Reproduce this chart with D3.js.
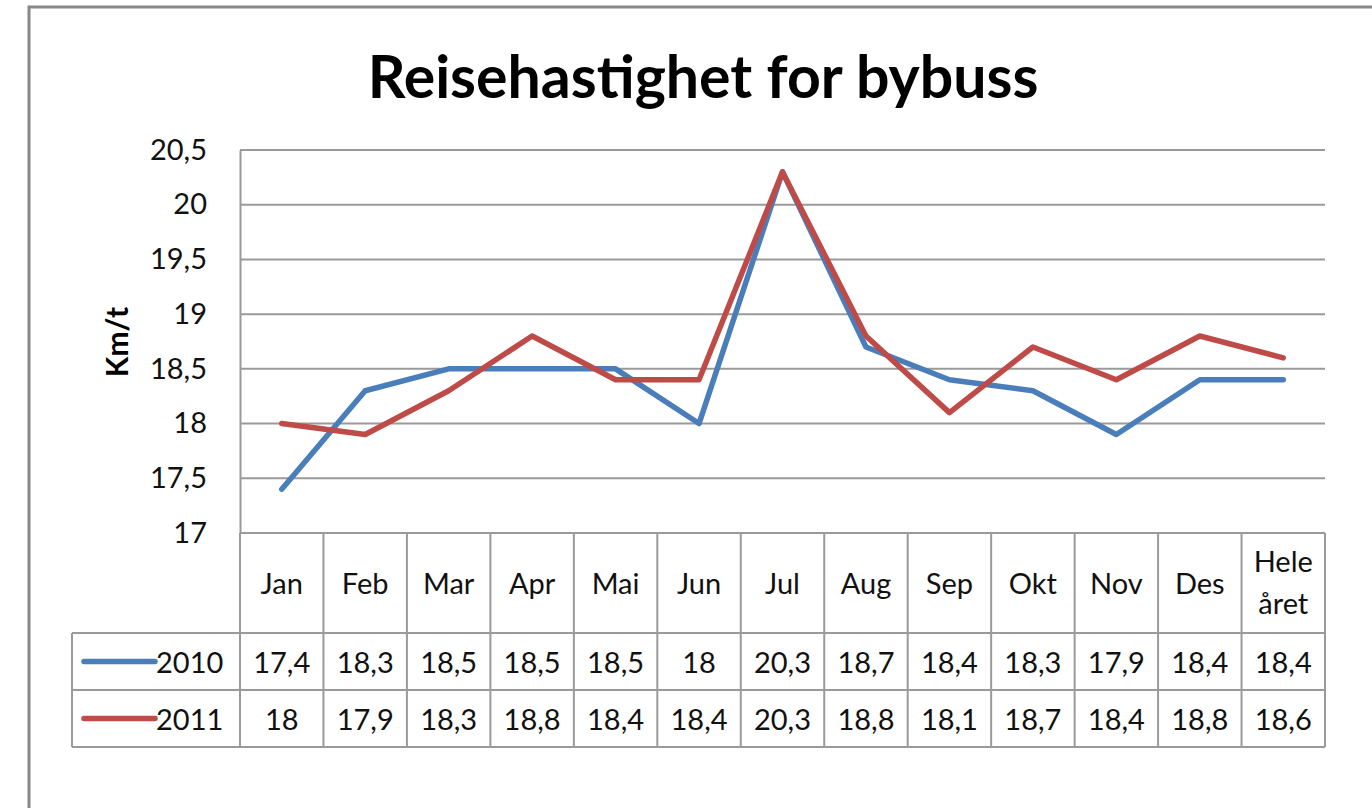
<!DOCTYPE html>
<html>
<head>
<meta charset="utf-8">
<script src="https://cdn.jsdelivr.net/npm/d3@7"></script>
<style>
  body { margin: 0; background: #fff; }
  svg { display: block; font-family: Lato, "Open Sans", sans-serif; }
</style>
</head>
<body>
<svg id="chart"></svg>
<script>
var categories = ["Jan", "Feb", "Mar", "Apr", "Mai", "Jun", "Jul", "Aug", "Sep", "Okt", "Nov", "Des", "Hele året"];
var series2010 = [17.4, 18.3, 18.5, 18.5, 18.5, 18.0, 20.3, 18.7, 18.4, 18.3, 17.9, 18.4, 18.4];
var series2011 = [18.0, 17.9, 18.3, 18.8, 18.4, 18.4, 20.3, 18.8, 18.1, 18.7, 18.4, 18.8, 18.6];
var seriesNames = ["2010", "2011"];
var yTicks = [17, 17.5, 18, 18.5, 19, 19.5, 20, 20.5];

var W = 1372, H = 808;
var margin = { top: 150, right: 47, bottom: 275, left: 240 },
    w = W - margin.left - margin.right,
    h = H - margin.top - margin.bottom;

var colors = ["#4a7ebb", "#be4b48"];
var grid = "#9a9a9a";
var fs = 29;
var fmt = function(v) { return String(v).replace(".", ","); };

const svg = d3.select("#chart")
              .attr("width", W)
              .attr("height", H);

// outer chart border
svg.append("rect")
   .attr("x", 29).attr("y", 7)
   .attr("width", 1400).attr("height", 900)
   .attr("fill", "none")
   .attr("stroke", "#888")
   .attr("stroke-width", 3);

svg.append("text")
   .attr("x", 703).attr("y", 98)
   .attr("text-anchor", "middle")
   .attr("font-weight", "bold")
   .attr("font-size", 59)
   .attr("fill", "#000")
   .text("Reisehastighet for bybuss");

const g = svg.append("g")
             .attr("transform", "translate(" + margin.left + "," + margin.top + ")");

const xScale = d3.scaleBand()
                 .domain(categories)
                 .range([0, w]);

const yScale = d3.scaleLinear()
                 .domain([17, 20.5])
                 .range([h, 0]);

// gridlines
g.selectAll("line.grid")
 .data(yTicks)
 .enter()
 .append("line")
 .attr("class", "grid")
 .attr("x1", 0).attr("x2", w)
 .attr("y1", d => yScale(d)).attr("y2", d => yScale(d))
 .attr("stroke", grid).attr("stroke-width", 2);

const yAxis = d3.axisLeft(yScale)
                .tickValues(yTicks)
                .tickSize(0)
                .tickPadding(33)
                .tickFormat(fmt);

g.append("g")
 .call(yAxis)
 .call(a => a.select(".domain").attr("stroke", grid).attr("stroke-width", 2))
 .call(a => a.selectAll("text").attr("font-size", fs).attr("fill", "#111").attr("font-family", "Lato"));

svg.append("text")
   .attr("transform", "translate(128,342) rotate(-90)")
   .attr("text-anchor", "middle")
   .attr("font-weight", "bold")
   .attr("font-size", 30)
   .attr("fill", "#000")
   .text("Km/t");

// lines
const line = d3.line()
               .x((d, i) => xScale(categories[i]) + xScale.bandwidth() / 2)
               .y(d => yScale(d));

[series2010, series2011].forEach(function(s, k) {
  g.append("path")
   .datum(s)
   .attr("d", line)
   .attr("fill", "none")
   .attr("stroke", colors[k])
   .attr("stroke-width", 5.5)
   .attr("stroke-linejoin", "round")
   .attr("stroke-linecap", "round");
});

// data table
var headH = 100, rowH = 57, tableLeft = 72 - margin.left;
var tbl = g.append("g").attr("transform", "translate(0," + h + ")");

// vertical lines for category columns
var bounds = categories.map(c => xScale(c)).concat([w]);
tbl.selectAll("line.col")
   .data(bounds)
   .enter()
   .append("line")
   .attr("x1", d => d).attr("x2", d => d)
   .attr("y1", 0).attr("y2", headH + 2 * rowH)
   .attr("stroke", grid).attr("stroke-width", 2);

// horizontal lines
[[0, headH], [tableLeft, headH], [tableLeft, headH + rowH], [tableLeft, headH + 2 * rowH]].forEach(function(p, i) {
  tbl.append("line")
     .attr("x1", i === 0 ? 0 : p[0]).attr("x2", w)
     .attr("y1", i === 0 ? 0 : p[1]).attr("y2", i === 0 ? 0 : p[1])
     .attr("stroke", grid).attr("stroke-width", 2);
});
tbl.append("line")
   .attr("x1", tableLeft).attr("x2", tableLeft)
   .attr("y1", headH).attr("y2", headH + 2 * rowH)
   .attr("stroke", grid).attr("stroke-width", 2);

// header labels
categories.forEach(function(c) {
  var cx = xScale(c) + xScale.bandwidth() / 2;
  var parts = c.split(" ");
  var t = tbl.append("text")
             .attr("text-anchor", "middle")
             .attr("font-size", fs)
             .attr("fill", "#111");
  if (parts.length === 1) {
    t.attr("x", cx).attr("y", headH / 2 + 11).text(c);
  } else {
    parts.forEach(function(p, j) {
      t.append("tspan").attr("x", cx).attr("y", 39 + j * 42).text(p);
    });
  }
});

// rows
[series2010, series2011].forEach(function(s, k) {
  var cy = headH + k * rowH + rowH / 2;
  tbl.append("line")
     .attr("x1", 84 - margin.left).attr("x2", 155 - margin.left)
     .attr("y1", cy).attr("y2", cy)
     .attr("stroke", colors[k]).attr("stroke-width", 5.5)
     .attr("stroke-linecap", "round");
  tbl.append("text")
     .attr("x", 156 - margin.left).attr("y", cy + 11)
     .attr("font-size", fs).attr("fill", "#111")
     .text(seriesNames[k]);
  tbl.selectAll(null)
     .data(s)
     .enter()
     .append("text")
     .attr("x", (d, i) => xScale(categories[i]) + xScale.bandwidth() / 2)
     .attr("y", cy + 11)
     .attr("text-anchor", "middle")
     .attr("font-size", fs)
     .attr("fill", "#111")
     .text(fmt);
});
</script>
</body>
</html>
